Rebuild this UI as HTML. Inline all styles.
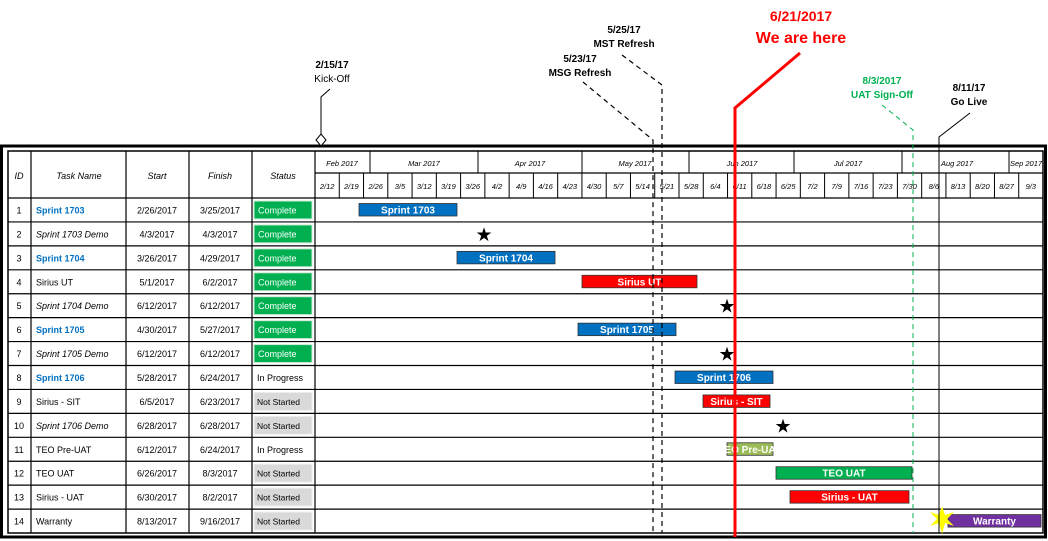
<!DOCTYPE html>
<html><head><meta charset="utf-8"><style>
html,body{margin:0;padding:0;background:#fff;}
svg{display:block;font-family:"Liberation Sans",sans-serif;}
</style></head><body>
<svg width="1048" height="541" viewBox="0 0 1048 541" xmlns="http://www.w3.org/2000/svg">
<rect width="1048" height="541" fill="#fff"/>
<!-- outer frame -->
<rect x="1.5" y="146" width="1044" height="391" fill="none" stroke="#000" stroke-width="3"/>
<rect x="8" y="151" width="1035" height="382" fill="none" stroke="#000" stroke-width="1.5"/>
<g stroke="#000" stroke-width="1.2">
<line x1="31" y1="151" x2="31" y2="533"/>
<line x1="126" y1="151" x2="126" y2="533"/>
<line x1="189" y1="151" x2="189" y2="533"/>
<line x1="252" y1="151" x2="252" y2="533"/>
<line x1="315" y1="151" x2="315" y2="533"/>
<line x1="315" y1="173" x2="1043" y2="173"/>
<line x1="8" y1="198" x2="1043" y2="198"/>
</g>
<g id="rows" stroke="#000" stroke-width="1.2"></g>
<g id="txt"></g>
<script>
(function(){
var NS="http://www.w3.org/2000/svg",svg=document.querySelector('svg');
function el(n,a,t,p){var e=document.createElementNS(NS,n);for(var k in a)e.setAttribute(k,a[k]);if(t!=null)e.textContent=t;(p||svg).appendChild(e);return e;}
var H=23.93,T=198;
for(var i=1;i<14;i++){var y=T+H*i;el('line',{x1:8,y1:y,x2:1043,y2:y,stroke:'#000','stroke-width':1.2});}
// month row
var mb=[370,478,582,689,794,902,1009];
mb.forEach(function(x){el('line',{x1:x,y1:151,x2:x,y2:173,stroke:'#000','stroke-width':1});});
var mn=[["Feb 2017",342],["Mar 2017",424],["Apr 2017",530],["May 2017",635],["Jun 2017",742],["Jul 2017",848],["Aug 2017",957],["Sep 2017",1026]];
mn.forEach(function(m){el('text',{x:m[1],y:166,'font-size':7.5,'font-style':'italic','text-anchor':'middle'},m[0]);});
var wk=["2/12","2/19","2/26","3/5","3/12","3/19","3/26","4/2","4/9","4/16","4/23","4/30","5/7","5/14","5/21","5/28","6/4","6/11","6/18","6/25","7/2","7/9","7/16","7/23","7/30","8/6","8/13","8/20","8/27","9/3"];
var W=728/30;
wk.forEach(function(w,j){var x=315+W*j;if(j>0)el('line',{x1:x,y1:173,x2:x,y2:198,stroke:'#000','stroke-width':1});
el('text',{x:x+W/2,y:189,'font-size':7.5,'font-style':'italic','text-anchor':'middle'},w);});
// headers
[["ID",19],["Task Name",79],["Start",157],["Finish",220],["Status",283]].forEach(function(h){el('text',{x:h[1],y:179,'font-size':9,'font-style':'italic','text-anchor':'middle'},h[0]);});
var rows=[
["1","Sprint 1703","2/26/2017","3/25/2017","C","b"],
["2","Sprint 1703  Demo","4/3/2017","4/3/2017","C","i"],
["3","Sprint 1704","3/26/2017","4/29/2017","C","b"],
["4","Sirius UT","5/1/2017","6/2/2017","C",""],
["5","Sprint 1704 Demo","6/12/2017","6/12/2017","C","i"],
["6","Sprint 1705","4/30/2017","5/27/2017","C","b"],
["7","Sprint 1705 Demo","6/12/2017","6/12/2017","C","i"],
["8","Sprint 1706","5/28/2017","6/24/2017","P","b"],
["9","Sirius -  SIT","6/5/2017","6/23/2017","N",""],
["10","Sprint 1706 Demo","6/28/2017","6/28/2017","N","i"],
["11","TEO Pre-UAT","6/12/2017","6/24/2017","P",""],
["12","TEO UAT","6/26/2017","8/3/2017","N",""],
["13","Sirius - UAT","6/30/2017","8/2/2017","N",""],
["14","Warranty","8/13/2017","9/16/2017","N",""]];
rows.forEach(function(r,k){var y0=T+H*k,yc=y0+H/2+3.5;
el('text',{x:19,y:yc,'font-size':9,'text-anchor':'middle'},r[0]);
var a={x:36,y:yc,'font-size':9};if(r[5]=='b'){a.fill='#0070c0';a['font-weight']='bold';}if(r[5]=='i')a['font-style']='italic';
el('text',a,r[1]);
el('text',{x:157,y:yc,'font-size':9,'text-anchor':'middle'},r[2]);
el('text',{x:220,y:yc,'font-size':9,'text-anchor':'middle'},r[3]);
if(r[4]=='C'){el('rect',{x:254,y:y0+3,width:58,height:H-6,fill:'#00b050',stroke:'#cfe8d6','stroke-width':1});el('text',{x:258,y:yc,'font-size':9,fill:'#fff'},'Complete');}
else if(r[4]=='N'){el('rect',{x:254,y:y0+3,width:58,height:H-6,fill:'#d9d9d9',stroke:'#eee','stroke-width':1});el('text',{x:257,y:yc,'font-size':8.5},'Not Started');}
else el('text',{x:257,y:yc,'font-size':9},'In Progress');
});
// bars
var bars=[[1,359,457,'#0070c0','Sprint 1703'],[3,457,555,'#0070c0','Sprint 1704'],[4,582,697,'#ff0000','Sirius UT'],[6,578,676,'#0070c0','Sprint 1705'],[8,675,773,'#0070c0','Sprint 1706'],[9,703,770,'#ff0000','Sirius -  SIT'],[11,727,773,'#9bbb59','EO Pre-UA'],[12,776,912,'#00b050','TEO UAT'],[13,790,909,'#ff0000','Sirius - UAT'],[14,948,1041,'#7030a0','Warranty']];
bars.forEach(function(b){var y0=T+H*(b[0]-1)+5.5;el('rect',{x:b[1],y:y0,width:b[2]-b[1],height:12.5,fill:b[3],stroke:'#333','stroke-width':0.8});
el('text',{x:(b[1]+b[2])/2,y:y0+10,'font-size':10,'font-weight':'bold',fill:'#fff','text-anchor':'middle'},b[4]);});
// stars
[[484,2],[727,5],[727,7],[783,10]].forEach(function(s){el('text',{x:s[0],y:T+H*(s[1]-1)+H/2+7,'font-size':19,'text-anchor':'middle'},'★');});
})();
</script>
<!-- yellow burst -->
<polygon points="942,506 945,515 954,512 947,519 954,526 945,523 942,534 939,523 930,526 937,519 930,512 939,515" fill="#ffff00"/>
<!-- milestone lines -->
<g fill="none">
<polyline points="583,82 653,140 653,533" stroke="#000" stroke-width="1.2" stroke-dasharray="5,4"/>
<polyline points="622,55 662,85 662,533" stroke="#000" stroke-width="1.2" stroke-dasharray="5,4"/>
<polyline points="882,105 913,130 913,533" stroke="#00b050" stroke-width="1" stroke-dasharray="5,4"/>
<polyline points="970,113 939,137 939,533" stroke="#000" stroke-width="1"/>
<polyline points="330,89 321,97 321,135" stroke="#000" stroke-width="1"/>
<polyline points="800,53 735,108 735,537" stroke="#ff0000" stroke-width="3"/>
</g>
<polygon points="321,134 326,140 321,146 316,140" fill="#fff" stroke="#000" stroke-width="1"/>
<g font-size="10" text-anchor="middle" font-weight="bold">
<text x="332" y="68">2/15/17</text><text x="332" y="82" font-weight="normal">Kick-Off</text>
<text x="580" y="62">5/23/17</text><text x="580" y="76">MSG Refresh</text>
<text x="624" y="33">5/25/17</text><text x="624" y="47">MST Refresh</text>
<text x="882" y="84" fill="#00b050">8/3/2017</text><text x="882" y="98" fill="#00b050">UAT Sign-Off</text>
<text x="969" y="91">8/11/17</text><text x="969" y="105">Go Live</text>
<text x="801" y="21" font-size="14" fill="#ff0000">6/21/2017</text>
<text x="801" y="43" font-size="16" fill="#ff0000">We are here</text>
</g>
</svg>
</body></html>
